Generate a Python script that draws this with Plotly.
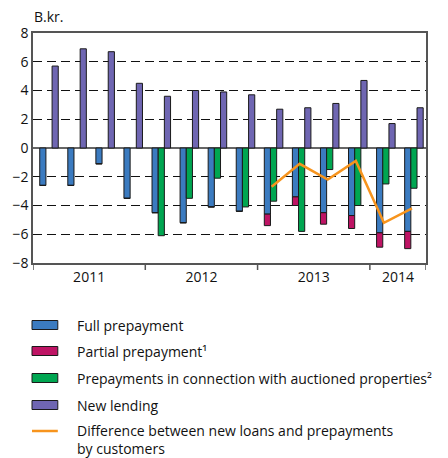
import plotly.graph_objects as go

# ---- data ----
quarters = ["2011Q1", "2011Q2", "2011Q3", "2011Q4",
            "2012Q1", "2012Q2", "2012Q3", "2012Q4",
            "2013Q1", "2013Q2", "2013Q3", "2013Q4",
            "2014Q1", "2014Q2"]
years = ["2011", "2012", "2013", "2014"]
year_quarters = [4, 4, 4, 2]

full_prepayment = [-2.6, -2.6, -1.1, -3.5, -4.5, -5.2, -4.1, -4.4,
                   -4.6, -3.4, -4.5, -4.7, -5.9, -5.8]
partial_prepayment = [0, 0, 0, 0, 0, 0, 0, 0,
                      -0.8, -0.6, -0.8, -0.9, -1.0, -1.2]
auctioned_prepayment = [None, None, None, None, -6.1, -3.5, -2.1, -4.1,
                        -3.7, -5.8, -1.5, -4.0, -2.5, -2.8]
new_lending = [5.7, 6.9, 6.7, 4.5, 3.6, 4.0, 3.9, 3.7,
               2.7, 2.8, 3.1, 4.7, 1.7, 2.8]
difference = [None, None, None, None, None, None, None, None,
              -2.7, -1.1, -2.2, -0.9, -5.2, -4.2]

y_ticks = [-8, -6, -4, -2, 0, 2, 4, 6, 8]
unit_label = "B.kr."

legend_labels = ["Full prepayment",
                 "Partial prepayment¹",
                 "Prepayments in connection with auctioned properties²",
                 "New lending",
                 "Difference between new loans and prepayments<br>by customers"]

# ---- style ----
C_BLUE = "#3B7BC0"
C_RED = "#BE1464"
C_GREEN = "#00A651"
C_PURPLE = "#6F66B2"
C_ORANGE = "#F7941D"
OUTLINE = "#1a1a1a"
FONT = "Open Sans"

W, H = 448, 458
ML, MR, MT, MB = 30, 22, 33, 195
PW, PH = W - ML - MR, H - MT - MB

x = list(range(len(quarters)))
bw = 0.22

fig = go.Figure()
mk = lambda c: dict(color=c, line=dict(color=OUTLINE, width=1))

fig.add_trace(go.Bar(x=x, y=full_prepayment, width=bw, offset=-0.26,
                     marker=mk(C_BLUE), name=legend_labels[0]))
fig.add_trace(go.Bar(x=x, y=partial_prepayment, base=full_prepayment, width=bw,
                     offset=-0.26, marker=mk(C_RED), name=legend_labels[1]))
fig.add_trace(go.Bar(x=x, y=auctioned_prepayment, width=bw, offset=-0.04,
                     marker=mk(C_GREEN), name=legend_labels[2]))
fig.add_trace(go.Bar(x=x, y=new_lending, width=bw, offset=0.18,
                     marker=mk(C_PURPLE), name=legend_labels[3]))
fig.add_trace(go.Scatter(x=x, y=difference, mode="lines",
                         line=dict(color=C_ORANGE, width=2.5),
                         name=legend_labels[4].replace("<br>", " ")))

# year label positions and boundaries
centers, bounds = [], [-0.5]
start = -0.5
for n in year_quarters:
    centers.append(start + n / 2)
    start += n
    bounds.append(start)

shapes = []
for b in bounds:
    shapes.append(dict(type="line", xref="x", yref="paper", x0=b, x1=b,
                       y0=0, y1=-7 / PH, line=dict(color="#555", width=1.5)))


def px_x(px):
    return (px - ML) / PW


def px_y(py):
    return (H - MB - py) / PH


annotations = [dict(text=unit_label, xref="paper", yref="paper",
                    x=px_x(29), y=px_y(17), xanchor="left", yanchor="middle",
                    showarrow=False, font=dict(size=14, color="#111", family=FONT))]

leg_y = [325, 351, 378, 405, 431]
leg_colors = [C_BLUE, C_RED, C_GREEN, C_PURPLE]

for i, lab in enumerate(legend_labels):
    yc = leg_y[i]
    if i < 4:
        shapes.append(dict(type="rect", xref="paper", yref="paper",
                           x0=px_x(29), x1=px_x(55), y0=px_y(yc + 4.5), y1=px_y(yc - 4.5),
                           fillcolor=leg_colors[i], line=dict(color=OUTLINE, width=1)))
        ty = yc
    else:
        shapes.append(dict(type="line", xref="paper", yref="paper",
                           x0=px_x(29), x1=px_x(55), y0=px_y(yc), y1=px_y(yc),
                           line=dict(color=C_ORANGE, width=2.5)))
        ty = yc + 8.5
    annotations.append(dict(text=lab, xref="paper", yref="paper",
                            x=px_x(73), y=px_y(ty), xanchor="left", yanchor="middle",
                            align="left", showarrow=False, borderpad=0,
                            font=dict(size=14, color="#111", family=FONT)))

fig.update_layout(
    width=W, height=H,
    margin=dict(l=ML, r=MR, t=MT, b=MB, pad=0),
    paper_bgcolor="white", plot_bgcolor="white",
    showlegend=False, barmode="overlay",
    font=dict(family=FONT, size=14, color="#111"),
    shapes=shapes, annotations=annotations,
    xaxis=dict(range=[-0.5, len(quarters) - 0.5], tickvals=centers, ticktext=years,
               ticks="", showgrid=False, zeroline=False,
               showline=True, linecolor="#555", linewidth=1.5, mirror=True,
               tickfont=dict(size=14, family=FONT, color="#111")),
    yaxis=dict(range=[-8, 8], tickvals=y_ticks, ticks="",
               showgrid=True, gridcolor="#111", gridwidth=1, griddash="9px,5px",
               zeroline=True, zerolinecolor="#666", zerolinewidth=1.5,
               showline=True, linecolor="#555", linewidth=1.5, mirror=True,
               tickfont=dict(size=14, family=FONT, color="#111")),
)

fig.write_html("out.html", config={"displayModeBar": False},
               post_script="document.body.style.margin='0';document.body.style.padding='0';")
